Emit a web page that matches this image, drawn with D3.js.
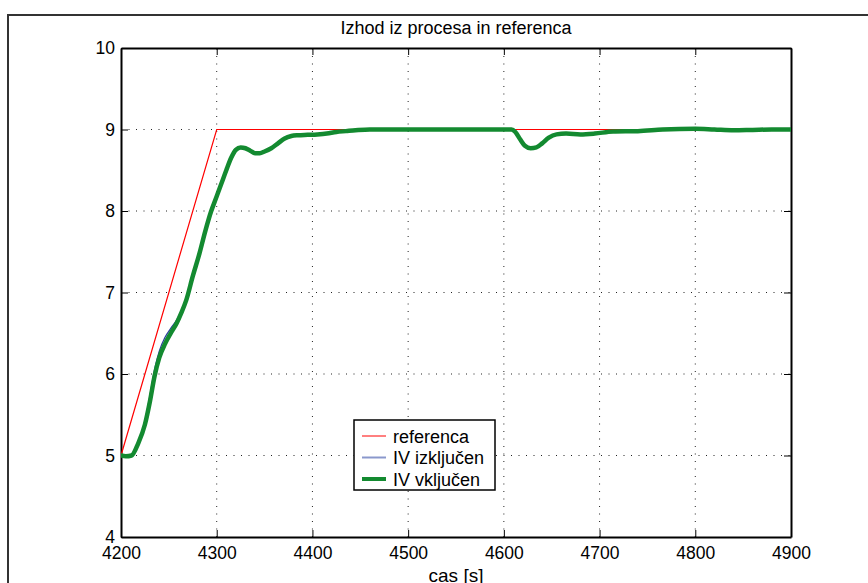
<!DOCTYPE html>
<html>
<head>
<meta charset="utf-8">
<script src="https://cdn.jsdelivr.net/npm/d3@7"></script>
<style>
  html, body { margin: 0; padding: 0; background: #fff; }
  svg { display: block; font-family: "Liberation Sans", Arial, Helvetica, sans-serif; }
</style>
</head>
<body>
<svg id="chart" width="868" height="583"></svg>
<script>
// Reference trajectory (ramp to set point)
const refTime  = [4200, 4300, 4900];
const refValue = [5, 9, 9];

// Process output, IV controller off
const offTime  = [4200, 4205, 4211, 4218, 4225, 4230, 4235, 4240, 4246, 4252, 4258, 4263, 4268, 4275, 4282, 4288, 4294, 4300, 4305, 4310, 4315, 4320, 4325, 4330, 4335, 4340, 4345, 4350, 4357, 4364, 4371, 4378, 4385, 4395, 4405, 4415, 4425, 4435, 4445, 4460, 4500, 4550, 4600, 4608, 4612, 4617, 4622, 4628, 4634, 4640, 4647, 4655, 4665, 4680, 4695, 4714, 4740, 4766, 4800, 4820, 4840, 4860, 4880, 4900];
const offValue = [5.0, 4.99, 5.0, 5.16, 5.42, 5.72, 6.05, 6.28, 6.45, 6.56, 6.66, 6.77, 6.91, 7.2, 7.48, 7.75, 7.99, 8.18, 8.34, 8.5, 8.65, 8.75, 8.78, 8.77, 8.74, 8.71, 8.71, 8.73, 8.77, 8.83, 8.88, 8.91, 8.92, 8.925, 8.93, 8.945, 8.965, 8.98, 8.99, 9.0, 9.0, 9.0, 9.0, 9.0, 8.97, 8.88, 8.8, 8.77, 8.78, 8.83, 8.9, 8.94, 8.95, 8.94, 8.95, 8.975, 8.98, 9.0, 9.01, 9.0, 8.99, 8.995, 9.0, 9.0];

// Process output, IV controller on
const onTime   = offTime;
const onValue  = [5.0, 4.99, 5.0, 5.15, 5.38, 5.65, 5.97, 6.2, 6.37, 6.5, 6.62, 6.75, 6.9, 7.2, 7.48, 7.75, 7.99, 8.18, 8.34, 8.5, 8.65, 8.75, 8.78, 8.77, 8.74, 8.71, 8.71, 8.73, 8.77, 8.83, 8.89, 8.92, 8.93, 8.935, 8.94, 8.95, 8.97, 8.98, 8.99, 9.0, 9.0, 9.0, 9.0, 9.0, 8.97, 8.88, 8.8, 8.77, 8.78, 8.83, 8.9, 8.94, 8.95, 8.94, 8.95, 8.975, 8.98, 9.0, 9.01, 9.0, 8.99, 8.995, 9.0, 9.0];

const xTicks = [4200, 4300, 4400, 4500, 4600, 4700, 4800, 4900];
const yTicks = [4, 5, 6, 7, 8, 9, 10];

const titleText  = "Izhod iz procesa in referenca";
const xLabelText = "cas [s]";
const legendLabels = ["referenca", "IV izključen", "IV vključen"];

const svg = d3.select("#chart");

// Outer figure frame
svg.append("rect")
  .attr("x", 8).attr("y", 15).attr("width", 900).attr("height", 600)
  .attr("fill", "none").attr("stroke", "#333").attr("stroke-width", 2);

const plotLeft = 121, plotRight = 791, plotTop = 48, plotBottom = 537;
const x = d3.scaleLinear().domain([4200, 4900]).range([plotLeft, plotRight]);
const y = d3.scaleLinear().domain([4, 10]).range([plotBottom, plotTop]);

// Dotted grid
const grid = svg.append("g").attr("stroke", "#222").attr("stroke-width", 1)
  .attr("stroke-dasharray", "1,6.5");
grid.selectAll("line.gx").data(xTicks.slice(1, -1)).join("line")
  .attr("x1", d => x(d)).attr("x2", d => x(d))
  .attr("y1", plotBottom).attr("y2", plotTop);
grid.selectAll("line.gy").data(yTicks.slice(1, -1)).join("line")
  .attr("y1", d => y(d)).attr("y2", d => y(d))
  .attr("x1", plotLeft).attr("x2", plotRight);

// Axes (ticks drawn inward, box on all four sides)
const tickLen = 7;
const axB = svg.append("g").attr("transform", `translate(0,${plotBottom})`)
  .call(d3.axisBottom(x).tickValues(xTicks).tickFormat(d3.format("d")).tickSizeInner(-tickLen).tickSizeOuter(0).tickPadding(12));
const axT = svg.append("g").attr("transform", `translate(0,${plotTop})`)
  .call(d3.axisTop(x).tickValues(xTicks).tickFormat("").tickSizeInner(-tickLen).tickSizeOuter(0));
const axL = svg.append("g").attr("transform", `translate(${plotLeft},0)`)
  .call(d3.axisLeft(y).tickValues(yTicks).tickFormat(d3.format("d")).tickSizeInner(-tickLen).tickSizeOuter(0).tickPadding(6));
const axR = svg.append("g").attr("transform", `translate(${plotRight},0)`)
  .call(d3.axisRight(y).tickValues(yTicks).tickFormat("").tickSizeInner(-tickLen).tickSizeOuter(0));

[axB, axT, axL, axR].forEach(g => {
  g.select(".domain").attr("stroke", "#000").attr("stroke-width", 2);
  g.selectAll(".tick line").attr("stroke", "#000").attr("stroke-width", 1);
  g.selectAll("text").attr("font-size", 17.5).attr("fill", "#000")
    .attr("font-family", "'Liberation Sans', Arial, sans-serif");
});
axB.selectAll("text").attr("dy", "0.71em").attr("y", 10);

// Series
const line = d3.line().x(d => x(d[0])).y(d => y(d[1]));
svg.append("clipPath").attr("id", "plotclip")
  .append("rect").attr("x", plotLeft).attr("y", plotTop)
  .attr("width", plotRight - plotLeft).attr("height", plotBottom - plotTop);

const plot = svg.append("g").attr("clip-path", "url(#plotclip)");
plot.append("path").datum(d3.zip(refTime, refValue))
  .attr("d", line).attr("fill", "none").attr("stroke", "#ff0000").attr("stroke-width", 1.2);

const smooth = d3.line().curve(d3.curveMonotoneX).x(d => x(d[0])).y(d => y(d[1]));
plot.append("path").datum(d3.zip(offTime, offValue))
  .attr("d", smooth).attr("fill", "none").attr("stroke", "#2c3e9e").attr("stroke-width", 1.3);
plot.append("path").datum(d3.zip(onTime, onValue))
  .attr("d", smooth).attr("fill", "none").attr("stroke", "#138a30").attr("stroke-width", 4.5)
  .attr("stroke-linejoin", "round").attr("stroke-linecap", "round");

// Title and axis label
svg.append("text").attr("x", 456).attr("y", 34).attr("text-anchor", "middle")
  .attr("font-size", 18).text(titleText);
svg.append("text").attr("x", 456).attr("y", 582).attr("text-anchor", "middle")
  .attr("font-size", 19).text(xLabelText);

// Legend
const lg = svg.append("g");
lg.append("rect").attr("x", 354).attr("y", 420).attr("width", 141).attr("height", 70)
  .attr("fill", "#fff").attr("stroke", "#000").attr("stroke-width", 1.5);
const legendStyles = [
  { color: "#ff0000", width: 1 },
  { color: "#8a98cc", width: 2 },
  { color: "#138a30", width: 4 }
];
legendLabels.forEach((lbl, i) => {
  const cy = 436 + i * 21.5;
  lg.append("line").attr("x1", 362).attr("x2", 386).attr("y1", cy).attr("y2", cy)
    .attr("stroke", legendStyles[i].color).attr("stroke-width", legendStyles[i].width);
  lg.append("text").attr("x", 393).attr("y", cy + 6.5).attr("font-size", 18).text(lbl);
});
</script>
</body>
</html>
